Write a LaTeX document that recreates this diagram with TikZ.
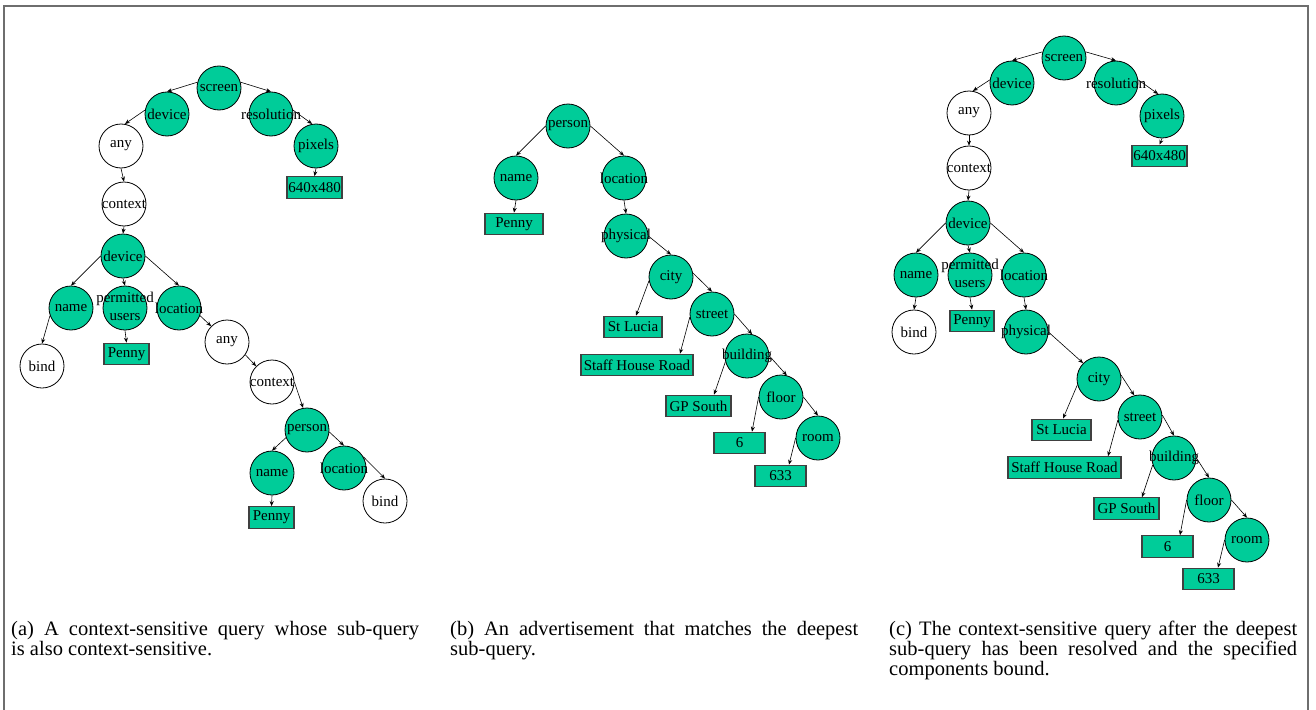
\documentclass[tikz,border=0pt]{standalone}
\usepackage{fontspec}
\setmainfont{Liberation Serif}
\usetikzlibrary{arrows.meta}
\definecolor{fillg}{RGB}{0,204,153}
\definecolor{framegray}{RGB}{110,110,110}
\newcommand{\ZT}[1]{\makebox[0pt]{#1}}
\newcommand{\nodefont}{\fontsize{15}{16.5}\selectfont}
\newcommand{\capfont}{\fontsize{20.5}{20}\selectfont}
\begin{document}
\begin{tikzpicture}[x=1pt,y=-1pt,
  gc/.style={circle,draw=black,line width=0.8pt,fill=fillg,minimum size=44pt,inner sep=0pt,font=\nodefont},
  wc/.style={gc,fill=white},
  gb/.style={rectangle,draw=black!75,line width=1.2pt,fill=fillg,minimum height=21.5pt,inner sep=0pt,font=\nodefont},
  lnk/.style={line width=0.6pt,-{Stealth[length=5pt,width=4pt]}},
  captext/.style={text width=408pt,align=justify,inner sep=0pt,anchor=north west,font=\capfont}]
\useasboundingbox (0,0) rectangle (1316,709);
% frame
\draw[framegray,line width=2pt] (3.5,712) -- (3.5,6) -- (1308,6) -- (1308,712);

% ---------------- panel (a)
\node[gc] (a-screen) at (219,88) {\ZT{screen}};
\node[gc] (a-dev) at (167,114) {\ZT{device}};
\node[gc] (a-res) at (271,114) {\ZT{resolution}};
\node[wc] (a-any) at (121,146) {\ZT{any}};
\node[gc] (a-pix) at (316,146) {\ZT{pixels}};
\node[gb,minimum width=55pt] (a-640) at (314.5,187.5) {640x480};
\node[wc] (a-ctx) at (124,204) {\ZT{context}};
\node[gc] (a-dev2) at (123,256) {\ZT{device}};
\node[gc] (a-name) at (71,308) {\ZT{name}};
\node[gc] (a-perm) at (125,308) {\ZT{\begin{tabular}{@{}c@{}}permitted\\[1.5pt]users\end{tabular}}};
\node[gc] (a-loc) at (179,308) {\ZT{location}};
\node[wc] (a-bind) at (42,366) {\ZT{bind}};
\node[gb,minimum width=45pt] (a-penny) at (126.5,354) {Penny};
\node[wc] (a-any2) at (227,342) {\ZT{any}};
\node[wc] (a-ctx2) at (272,382) {\ZT{context}};
\node[gc] (a-person) at (307,430) {\ZT{person}};
\node[gc] (a-name2) at (272,473) {\ZT{name}};
\node[gc] (a-loc2) at (344,468) {\ZT{location}};
\node[wc] (a-bind2) at (385,501) {\ZT{bind}};
\node[gb,minimum width=45pt] (a-penny2) at (271.5,517.5) {Penny};

\draw[lnk] (a-screen.165) -- (a-dev.north);
\draw[lnk] (a-screen.15) -- (a-res.north);
\draw[lnk] (a-dev.170) -- (a-any.80);
\draw[lnk] (a-res.10) -- (a-pix.100);
\draw[lnk] (a-pix.south) -- (a-640.north);
\draw[lnk] (a-any.south) -- (a-ctx.north);
\draw[lnk] (a-ctx.south) -- (a-dev2.north);
\draw[lnk] (a-dev2.west) -- (a-name.north);
\draw[lnk] (a-dev2.south) -- (a-perm.north);
\draw[lnk] (a-dev2.east) -- (a-loc.north);
\draw[lnk] (a-name.200) -- (a-bind.north);
\draw[lnk] (a-perm.south) -- (a-penny.north);
\draw[lnk] (a-loc.-20) -- (a-any2.135);
\draw[lnk] (a-any2.-35) -- (a-ctx2.135);
\draw[lnk] (a-ctx2.east) -- (a-person.100);
\draw[lnk] (a-person.200) -- (a-name2.north);
\draw[lnk] (a-person.-5) -- (a-loc2.north);
\draw[lnk] (a-loc2.30) -- (a-bind2.north);
\draw[lnk] (a-name2.south) -- (a-penny2.north);

% ---------------- panel (b)
\node[gc] (b-person) at (568,126) {\ZT{person}};
\node[gc] (b-name) at (516,178) {\ZT{name}};
\node[gc] (b-loc) at (624,178) {\ZT{location}};
\node[gb,minimum width=58pt] (b-penny) at (514,224) {Penny};
\node[gc] (b-phys) at (626,236) {\ZT{physical}};
\node[gc] (b-city) at (671,277) {\ZT{city}};
\node[gb,minimum width=58pt] (b-stl) at (633,327) {St Lucia};
\node[gc] (b-street) at (712,314) {\ZT{street}};
\node[gb,minimum width=112pt] (b-staff) at (637,365) {Staff House Road};
\node[gc] (b-bld) at (747,356) {\ZT{building}};
\node[gb,minimum width=65pt] (b-gp) at (698.5,406) {GP South};
\node[gc] (b-floor) at (781,397) {\ZT{floor}};
\node[gb,minimum width=51pt] (b-6) at (739.5,443) {6};
\node[gc] (b-room) at (818,438) {\ZT{room}};
\node[gb,minimum width=51pt] (b-633) at (780.5,476) {633};

\draw[lnk] (b-person.west) -- (b-name.north);
\draw[lnk] (b-person.east) -- (b-loc.north);
\draw[lnk] (b-name.south) -- (b-penny.north);
\draw[lnk] (b-loc.south) -- (b-phys.north);
\draw[lnk] (b-phys.east) -- (b-city.north);
\draw[lnk] (b-city.190) -- ([xshift=3pt]b-stl.north);
\draw[lnk] (b-city.10) -- (b-street.north);
\draw[lnk] (b-street.188) -- ([xshift=43pt]b-staff.north);
\draw[lnk] (b-street.east) -- (b-bld.77);
\draw[lnk] (b-bld.195) -- ([xshift=15.5pt]b-gp.north);
\draw[lnk] (b-bld.east) -- (b-floor.75);
\draw[lnk] (b-floor.west) -- ([xshift=12.5pt]b-6.north);
\draw[lnk] (b-floor.east) -- (b-room.north);
\draw[lnk] (b-room.west) -- ([xshift=8.5pt]b-633.north);

% ---------------- panel (c)
\node[gc] (c-screen) at (1064,58) {\ZT{screen}};
\node[gc] (c-dev) at (1012,83) {\ZT{device}};
\node[gc] (c-res) at (1116,83) {\ZT{resolution}};
\node[wc] (c-any) at (969,113) {\ZT{any}};
\node[gc] (c-pix) at (1162,116) {\ZT{pixels}};
\node[gb,minimum width=55pt] (c-640) at (1159.5,156) {640x480};
\node[wc] (c-ctx) at (969,168) {\ZT{context}};
\node[gc] (c-dev2) at (968,223) {\ZT{device}};
\node[gc] (c-name) at (916,275) {\ZT{name}};
\node[gc] (c-perm) at (970,275) {\ZT{\begin{tabular}{@{}c@{}}permitted\\[1.5pt]users\end{tabular}}};
\node[gc] (c-loc) at (1024,275) {\ZT{location}};
\node[wc] (c-bind) at (914,332) {\ZT{bind}};
\node[gb,minimum width=44pt] (c-penny) at (972,321) {Penny};
\node[gc] (c-phys) at (1026,332) {\ZT{physical}};
\node[gc] (c-city) at (1099,379) {\ZT{city}};
\node[gb,minimum width=59pt] (c-stl) at (1061.5,430) {St Lucia};
\node[gc] (c-street) at (1140,417) {\ZT{street}};
\node[gb,minimum width=113pt] (c-staff) at (1064.5,467.5) {Staff House Road};
\node[gc] (c-bld) at (1174,458) {\ZT{building}};
\node[gb,minimum width=65pt] (c-gp) at (1126.5,508.5) {GP South};
\node[gc] (c-floor) at (1209,500) {\ZT{floor}};
\node[gb,minimum width=51pt] (c-6) at (1167.5,546.5) {6};
\node[gc] (c-room) at (1247,540) {\ZT{room}};
\node[gb,minimum width=51pt] (c-633) at (1208.5,579) {633};

\draw[lnk] (c-screen.164) -- (c-dev.north);
\draw[lnk] (c-screen.16) -- (c-res.north);
\draw[lnk] (c-dev.172) -- (c-any.80);
\draw[lnk] (c-res.8) -- (c-pix.100);
\draw[lnk] (c-pix.south) -- (c-640.north);
\draw[lnk] (c-any.south) -- (c-ctx.north);
\draw[lnk] (c-ctx.south) -- (c-dev2.north);
\draw[lnk] (c-dev2.west) -- (c-name.north);
\draw[lnk] (c-dev2.south) -- (c-perm.north);
\draw[lnk] (c-dev2.east) -- (c-loc.north);
\draw[lnk] (c-name.south) -- (c-bind.north);
\draw[lnk] (c-perm.south) -- (c-penny.north);
\draw[lnk] (c-loc.south) -- (c-phys.north);
\draw[lnk] (c-phys.east) -- (c-city.135);
\draw[lnk] (c-city.195) -- ([xshift=1.5pt]c-stl.north);
\draw[lnk] (c-city.10) -- (c-street.105);
\draw[lnk] (c-street.188) -- ([xshift=43.5pt]c-staff.north);
\draw[lnk] (c-street.5) -- (c-bld.north);
\draw[lnk] (c-bld.198) -- ([xshift=15.5pt]c-gp.north);
\draw[lnk] (c-bld.east) -- (c-floor.north);
\draw[lnk] (c-floor.west) -- ([xshift=12.5pt]c-6.north);
\draw[lnk] (c-floor.east) -- (c-room.north);
\draw[lnk] (c-room.west) -- ([xshift=9.5pt]c-633.north);

% ---------------- captions
\node[captext] (cap-a) at (11,621) {(a) A context-sensitive query whose sub-query\linebreak is also context-sensitive.};
\node[captext] (cap-b) at (450,621) {(b) An advertisement that matches the deepest\linebreak sub-query.};
\node[captext] (cap-c) at (889,621) {(c) The context-sensitive query after the deepest\linebreak sub-query has been resolved and the specified\linebreak components bound.};
\end{tikzpicture}
\end{document}
